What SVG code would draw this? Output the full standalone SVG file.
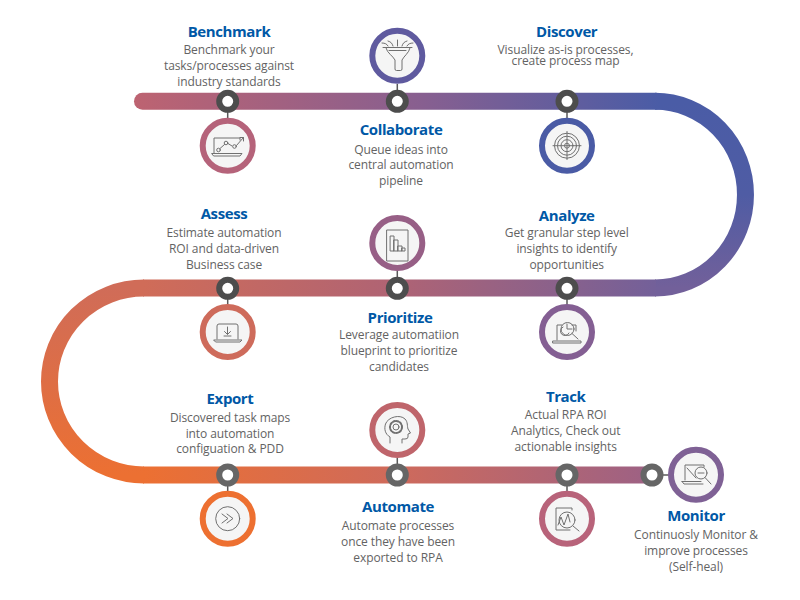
<svg xmlns="http://www.w3.org/2000/svg" width="800" height="600" viewBox="0 0 800 600">
<style>
text{font-family:"Open Sans","Noto Sans","Liberation Sans",sans-serif;text-anchor:middle}
.t{font-size:15px;font-weight:700;fill:#0058A6;letter-spacing:-.4px}
.d{font-size:12px;fill:#636363;letter-spacing:-.1px}
.band{fill:none;stroke-width:17}
.stem{stroke:#595959;stroke-width:1.5}
.dot{fill:#fff;stroke-width:6}
.disc{fill:#f5f5f5;stroke-width:6}
.i{fill:none;stroke:#707070;stroke-width:1;stroke-linecap:round;stroke-linejoin:round}
</style>
<defs>
<linearGradient id="g1" gradientUnits="userSpaceOnUse" x1="134" y1="0" x2="660" y2="0"><stop offset="0" stop-color="#BD6371"/><stop offset=".55" stop-color="#875F90"/><stop offset="1" stop-color="#4A5CA6"/></linearGradient>
<linearGradient id="g2" gradientUnits="userSpaceOnUse" x1="0" y1="101" x2="0" y2="288"><stop offset="0" stop-color="#4A5CA6"/><stop offset=".5" stop-color="#4F5CA4"/><stop offset="1" stop-color="#72609A"/></linearGradient>
<linearGradient id="g3" gradientUnits="userSpaceOnUse" x1="144" y1="0" x2="660" y2="0"><stop offset="0" stop-color="#D06C58"/><stop offset=".5" stop-color="#AE6375"/><stop offset="1" stop-color="#72609A"/></linearGradient>
<linearGradient id="g4" gradientUnits="userSpaceOnUse" x1="0" y1="288" x2="0" y2="475"><stop offset="0" stop-color="#D06C58"/><stop offset="1" stop-color="#EC7032"/></linearGradient>
<linearGradient id="g5" gradientUnits="userSpaceOnUse" x1="144" y1="0" x2="655" y2="0"><stop offset="0" stop-color="#EC7032"/><stop offset=".5" stop-color="#CE6A5C"/><stop offset="1" stop-color="#9C6185"/></linearGradient>
</defs>
<g id="connectors">
<path class="band" stroke="url(#g2)" d="M655 101.300A90.500 93.350 0 0 1 655 288"/>
<path class="band" stroke="url(#g4)" d="M144 288A94.500 93.500 0 0 0 144 475"/>
<path class="band" stroke="url(#g1)" stroke-linecap="round" d="M142.500 101.300H656"/>
<path class="band" stroke="url(#g3)" d="M143 288H656"/>
<path class="band" stroke="url(#g5)" d="M143 475H652"/>
<path class="stem" d="M227.700 112V120M397.300 84V90M567 112V120M227.700 299V306M397.300 271V277M567 299V306M227.700 486V493M397.300 458V464M567 486V493M663 475H670"/>
</g>
<g id="benchmark">
<circle class="dot" stroke="#4d4d4d" cx="227.700" cy="101.300" r="8.500"/>
<circle class="disc" stroke="#B5637A" cx="227.700" cy="145.700" r="25"/>
<path class="i" d="M214 153V138H240V140M212 153.500H242L240 156H214ZM220 148.500L224.500 144.500M228 143.500L232 146M236.500 145.500L243.500 137.500M240 137.500H243.500V141"/>
<g class="i"><circle cx="218.500" cy="150" r="1.800"/><circle cx="226" cy="143" r="1.800"/><circle cx="234.500" cy="146.500" r="1.800"/></g>
<text class="t" x="229" y="37">Benchmark</text>
<text class="d" x="229" y="54.300">Benchmark your</text>
<text class="d" x="229" y="70">tasks/processes against</text>
<text class="d" x="229" y="86">industry standards</text>
</g>
<g id="collaborate">
<circle class="dot" stroke="#4d4d4d" cx="397.300" cy="101.300" r="8.500"/>
<circle class="disc" stroke="#5F5A9F" cx="397.300" cy="55.700" r="25"/>
<path class="i" d="M383 47.500H412M386 48C387 53 393 56 395 60V69Q395 70.500 396.500 70.500H400.500Q402 70.500 402 69V60C404 56 409 53 410 48M397.500 46V40M393 46C392 43 391 42 388 41M402 46C403 43 404 42 407 41M388 46C387 44 385 43 382 43M407 46C408 44 410 43 413 43M389 50.500H406"/>
<text class="t" x="401" y="135">Collaborate</text>
<text class="d" x="401" y="153.500">Queue ideas into</text>
<text class="d" x="401" y="169">central automation</text>
<text class="d" x="401" y="185">pipeline</text>
</g>
<g id="discover">
<circle class="dot" stroke="#4d4d4d" cx="567" cy="101.300" r="8.500"/>
<circle class="disc" stroke="#4A5BA5" cx="567" cy="145.700" r="25"/>
<g class="i"><circle cx="567" cy="145.700" r="12.500"/><circle cx="567" cy="145.700" r="9.500"/><circle cx="567" cy="145.700" r="6"/><circle cx="567" cy="145.700" r="2.500"/><path d="M567 131.500V159.500M553 145.700H581"/></g>
<text class="t" x="566.700" y="37">Discover</text>
<text class="d" x="565.500" y="54.300">Visualize as-is processes,</text>
<text class="d" x="565.500" y="64.700">create process map</text>
</g>
<g id="analyze">
<circle class="dot" stroke="#4d4d4d" cx="567" cy="288.300" r="8.500"/>
<circle class="disc" stroke="#845F93" cx="567" cy="332" r="25"/>
<path class="i" d="M557 340V325H562M572 325H576V331M553 341H581V343H553ZM572 333.500L578 339M567 324V329H572M563 327A4.500 4.500 0 1 0 569 333"/>
<circle class="i" cx="567.500" cy="329" r="6.500"/>
<text class="t" x="566.700" y="221">Analyze</text>
<text class="d" x="566.700" y="237">Get granular step level</text>
<text class="d" x="566.700" y="253">insights to identify</text>
<text class="d" x="566.700" y="268.500">opportunities</text>
</g>
<g id="prioritize">
<circle class="dot" stroke="#4d4d4d" cx="397.300" cy="288.300" r="8.500"/>
<circle class="disc" stroke="#975F86" cx="397.300" cy="243" r="25"/>
<path class="i" d="M387 230H408V261H387ZM390.500 236H394V251H390.500ZM394 240H398V251H394ZM398 246H402V251H398ZM402 248H405V251H402Z"/>
<text class="t" x="400" y="322.700">Prioritize</text>
<text class="d" x="399" y="339">Leverage automatiion</text>
<text class="d" x="399" y="355">blueprint to prioritize</text>
<text class="d" x="399" y="371">candidates</text>
</g>
<g id="assess">
<circle class="dot" stroke="#4d4d4d" cx="227.700" cy="288.300" r="8.500"/>
<circle class="disc" stroke="#CE6B5B" cx="227.700" cy="332" r="25"/>
<path class="i" d="M217 339V326Q217 324 219 324H236Q238 324 238 326V339M214 340H242L240 342H216ZM227.500 327V334M224.500 331.500L227.500 334.500L230.500 331.500M224 336H231"/>
<text class="t" x="224" y="219">Assess</text>
<text class="d" x="224" y="237">Estimate automation</text>
<text class="d" x="224" y="253">ROI and data-driven</text>
<text class="d" x="224" y="268.500">Business case</text>
</g>
<g id="export">
<circle class="dot" stroke="#666" cx="227.700" cy="475" r="8.500"/>
<circle class="disc" stroke="#ED7031" cx="227.700" cy="518.700" r="25"/>
<g class="i"><circle cx="227.700" cy="518.700" r="12"/><path d="M222 514L228 518.500L222 523M227 514L233 518.500L227 523"/></g>
<text class="t" x="230" y="404">Export</text>
<text class="d" x="230" y="421.700">Discovered task maps</text>
<text class="d" x="230" y="437.500">into automation</text>
<text class="d" x="230" y="453">configuation &amp; PDD</text>
</g>
<g id="automate">
<circle class="dot" stroke="#666" cx="397.300" cy="475" r="8.500"/>
<circle class="disc" stroke="#BF656B" cx="397.300" cy="430" r="25"/>
<g class="i"><path d="M390 443V437C385 434 384 429 385.500 424C388 417 400 414 405 419C408 422 407 426 408 429L410.500 433L408 434V437Q408 439 405 439H402V443"/><circle cx="396" cy="427" r="3"/><circle cx="396" cy="427" r="6" stroke-dasharray="2 1.500" stroke-width="2"/></g>
<text class="t" x="398" y="512">Automate</text>
<text class="d" x="398" y="530">Automate processes</text>
<text class="d" x="398" y="546">once they have been</text>
<text class="d" x="398" y="561.500">exported to RPA</text>
</g>
<g id="track">
<circle class="dot" stroke="#666" cx="567" cy="475" r="8.500"/>
<circle class="disc" stroke="#B8637A" cx="567" cy="518.700" r="25"/>
<path class="i" d="M572 510V508H556V530H570M558 525L561 517L564 525L568 514L570 522M573 526L579 531"/>
<circle class="i" cx="567" cy="520" r="8"/>
<text class="t" x="565.700" y="401.700">Track</text>
<text class="d" x="565.700" y="419">Actual RPA ROI</text>
<text class="d" x="565.700" y="435">Analytics, Check out</text>
<text class="d" x="565.700" y="451">actionable insights</text>
</g>
<g id="monitor">
<circle class="dot" stroke="#666" cx="652" cy="475" r="8.500"/>
<circle class="disc" stroke="#7F6195" cx="696" cy="474.700" r="25"/>
<path class="i" d="M685 480V465H704V467M682 481.500H701M682 481.500L684 484H703M687 468L696 478M698 473H704M705 477.500L711 484"/>
<circle class="i" cx="701" cy="473" r="6"/>
<text class="t" x="696" y="520.700">Monitor</text>
<text class="d" x="696" y="539">Continuosly Monitor &amp;</text>
<text class="d" x="696" y="555">improve processes</text>
<text class="d" x="696" y="570.500">(Self-heal)</text>
</g>
</svg>
